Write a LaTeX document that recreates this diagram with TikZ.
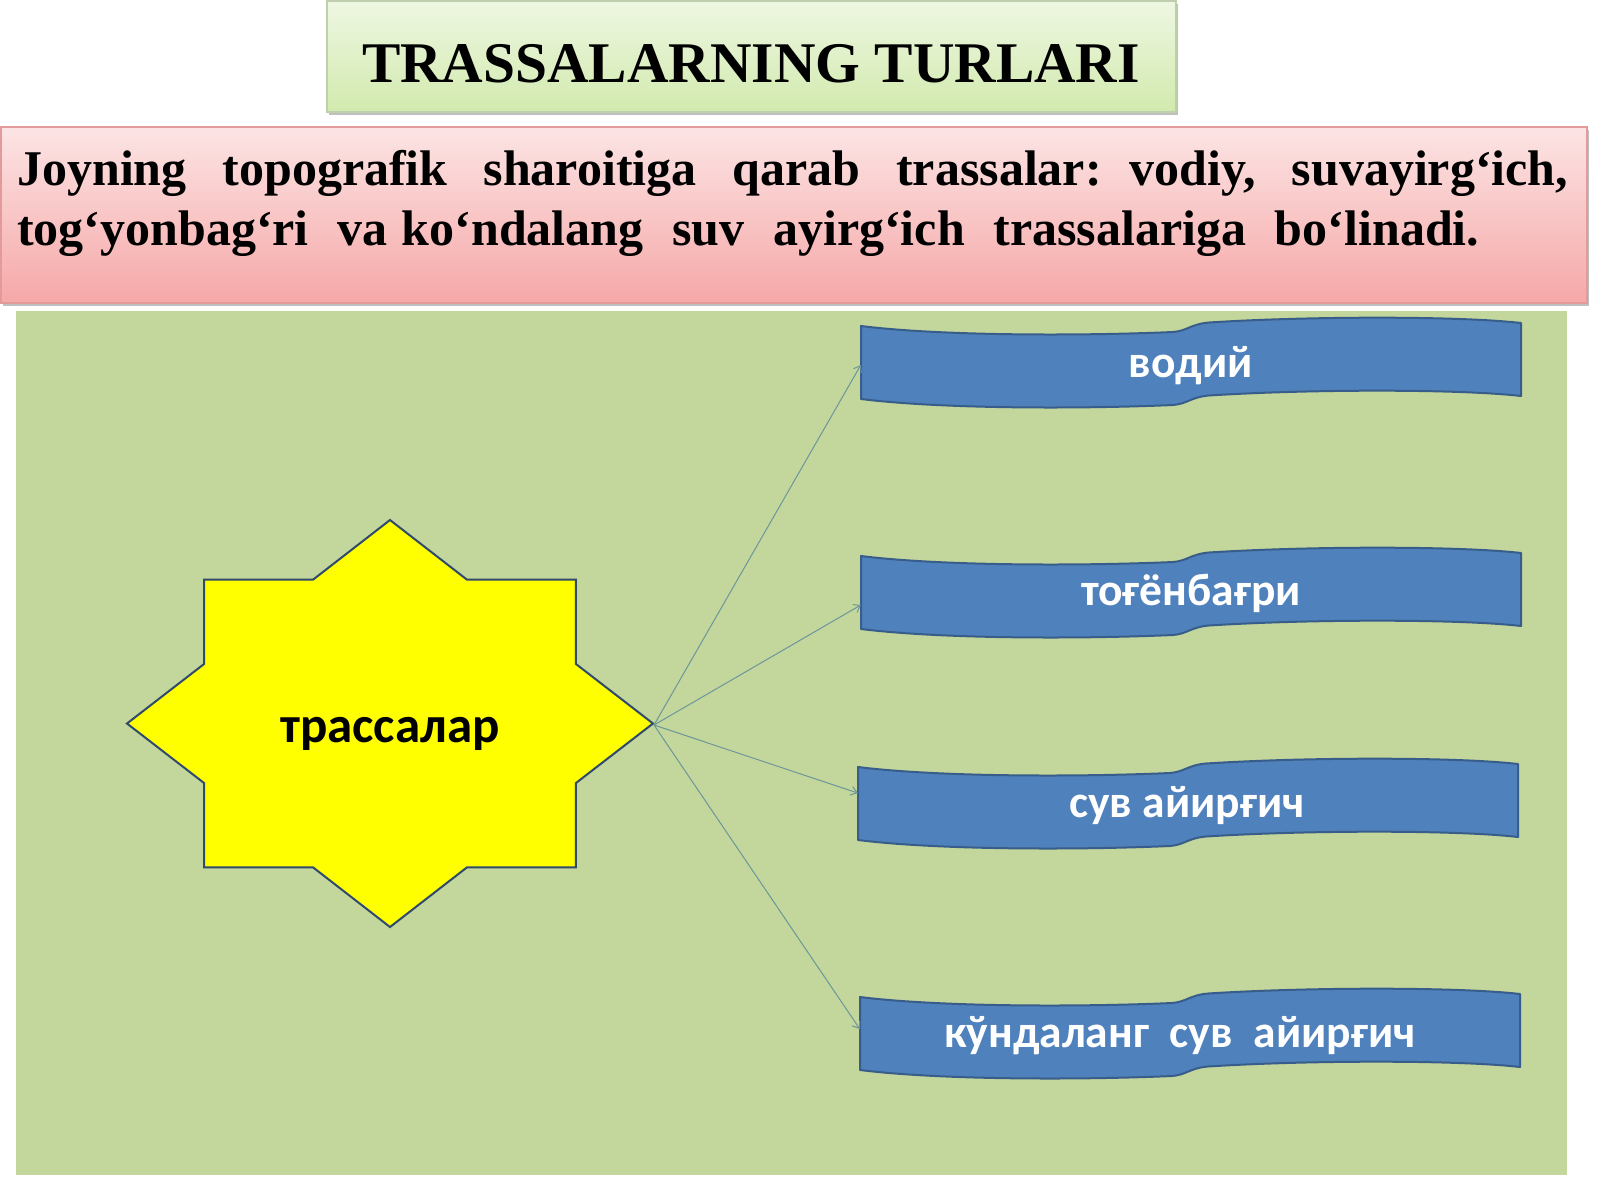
\documentclass[tikz,border=0pt]{standalone}
\usepackage{fontspec}
\setmainfont{Liberation Serif}
\newfontfamily\calibrifont{Carlito}
\usetikzlibrary{arrows.meta,shadows}
\definecolor{bggreen}{HTML}{C3D69B}
\definecolor{titletop}{HTML}{EEF7E2}
\definecolor{titlebot}{HTML}{D2EAAE}
\definecolor{titleborder}{HTML}{BFCFAE}
\definecolor{pinktop}{HTML}{FCE4E4}
\definecolor{pinkbot}{HTML}{F6A8A8}
\definecolor{pinkborder}{HTML}{E39A9A}
\definecolor{bannerblue}{HTML}{4F81BD}
\definecolor{bannerline}{HTML}{385D8A}
\definecolor{starline}{HTML}{2F4A6A}
\definecolor{staryellow}{HTML}{FFFF00}
\definecolor{connline}{HTML}{6B979C}
\newcommand\wavepath[2]{%
 (#1,#2) .. controls ({#1+80},{#2+10}) and ({#1+220},{#2+10}) .. ({#1+312},{#2+6})
 .. controls ({#1+326},{#2+5}) and ({#1+330},{#2-2}) .. ({#1+348},{#2-3.5})
 .. controls ({#1+450},{#2-10}) and ({#1+600},{#2-10}) .. ({#1+660},{#2-3})
 -- ({#1+660},{#2+70})
 .. controls ({#1+600},{#2+63}) and ({#1+450},{#2+63}) .. ({#1+348},{#2+69.5})
 .. controls ({#1+330},{#2+71}) and ({#1+326},{#2+78}) .. ({#1+312},{#2+79})
 .. controls ({#1+220},{#2+83}) and ({#1+80},{#2+83}) .. ({#1},{#2+73})
 -- cycle}
\begin{document}
\begin{tikzpicture}[x=1pt,y=-1pt,
  bannershape/.style={fill=bannerblue,draw=bannerline,line width=2pt,line join=round},
  bannerbox/.style={rectangle,minimum width=660pt,minimum height=73pt,inner sep=0pt},
  bannertext/.style={text=white,font=\calibrifont\bfseries\fontsize{45.5}{50}\selectfont,inner sep=0pt,anchor=base},
  conn/.style={draw=connline,line width=1pt,-{Straight Barb[length=6pt,width=9pt]}},
  shadowed/.style={drop shadow={shadow xshift=2pt,shadow yshift=-3pt,opacity=0.25,fill=black}},
  serifbold/.style={font=\bfseries\fontsize{50}{58}\selectfont,inner sep=0pt,anchor=base west}]
\useasboundingbox (0,0) rectangle (1600,1200);
\fill[white] (0,0) rectangle (1600,1200);
% title box
\path[shadowed,top color=titletop,bottom color=titlebot,draw=titleborder,line width=1.5pt] (327,1) rectangle (1176,112);
\node[font=\bfseries\fontsize{57.5}{60}\selectfont,inner sep=0pt,anchor=base] (title) at (751,82) {TRASSALARNING TURLARI};
% pink box
\path[shadowed,top color=pinktop,bottom color=pinkbot,draw=pinkborder,line width=1.5pt] (1,127) rectangle (1587,303);
\node[serifbold] (line1) at (17,185) {\makebox[1551pt][s]{Joyning\ \ topografik\ \ sharoitiga\ \ qarab\ \ trassalar: vodiy,\ \ suvayirg‘ich,}};
\node[serifbold] (line2) at (17,245) {\makebox[1462pt][s]{tog‘yonbag‘ri\ \ va ko‘ndalang\ \ suv\ \ ayirg‘ich\ \ trassalariga\ \ bo‘linadi.}};
% green area
\fill[bggreen] (16,311) rectangle (1567,1175);
% star
\begin{scope}[shift={(390,723.5)},x=263pt,y=-203.5pt]
\draw[fill=staryellow,draw=starline,line width=2pt,line join=miter]
 (0:1) -- (22.5:0.765) -- (45:1) -- (67.5:0.765) -- (90:1) -- (112.5:0.765) -- (135:1) -- (157.5:0.765)
 -- (180:1) -- (202.5:0.765) -- (225:1) -- (247.5:0.765) -- (270:1) -- (292.5:0.765) -- (315:1) -- (337.5:0.765) -- cycle;
\end{scope}
\node[font=\calibrifont\bfseries\fontsize{51}{56}\selectfont,inner sep=0pt,anchor=base] (star) at (390,742) {трассалар};
\coordinate (tip) at (654,725);
% banners
\draw[bannershape] \wavepath{861}{326};
\draw[bannershape] \wavepath{861}{556};
\draw[bannershape] \wavepath{858}{767};
\draw[bannershape] \wavepath{860}{997};
\node[bannerbox] (b1) at (1191,362.5) {};
\node[bannerbox] (b2) at (1191,592.5) {};
\node[bannerbox] (b3) at (1188,803.5) {};
\node[bannerbox] (b4) at (1190,1033.5) {};
\node[bannertext] (t1) at (1191,377) {водий};
\node[bannertext] (t2) at (1191,605) {тоғёнбағри};
\node[bannertext] (t3) at (1187,817) {сув айирғич};
\node[bannertext] (t4) at (1180,1047) {кўндаланг\ \ сув\ \ айирғич};
% connectors
\draw[conn] (tip) -- ([yshift=-2.5pt]b1.west);
\draw[conn] (tip) -- ([yshift=-12.5pt]b2.west);
\draw[conn] (tip) -- ([yshift=10.5pt]b3.west);
\draw[conn] (tip) -- ([yshift=4.5pt]b4.west);
\end{tikzpicture}
\end{document}
